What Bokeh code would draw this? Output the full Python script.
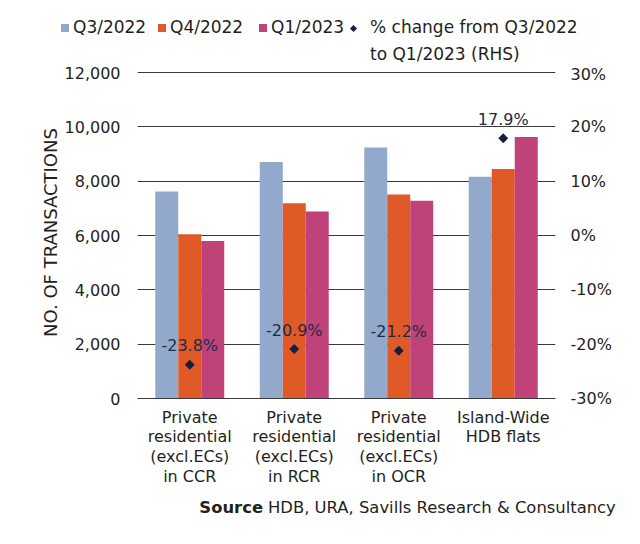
from bokeh.plotting import figure
from bokeh.layouts import column
from bokeh.models import (FactorRange, Range1d, LinearAxis, FixedTicker, NumeralTickFormatter,
                          ColumnDataSource, Div)
from bokeh.transform import dodge
from bokeh.core.properties import value
from bokeh.embed import file_html
from bokeh.resources import INLINE

# ---- data ----
categories = ["Private\nresidential\n(excl.ECs)\nin CCR",
              "Private\nresidential\n(excl.ECs)\nin RCR",
              "Private\nresidential\n(excl.ECs)\nin OCR",
              "Island-Wide\nHDB flats"]
q3_2022 = [7620, 8710, 9240, 8160]
q4_2022 = [6050, 7190, 7510, 8450]
q1_2023 = [5800, 6880, 7280, 9630]
pct_change = [-23.8, -20.9, -21.2, 17.9]
left_ticks = [0, 2000, 4000, 6000, 8000, 10000, 12000]
right_ticks = [-0.3, -0.2, -0.1, 0.0, 0.1, 0.2, 0.3]
series_names = ["Q3/2022", "Q4/2022", "Q1/2023"]
pct_name = "% change from Q3/2022"
pct_name_2 = "to Q1/2023 (RHS)"
source_head = "Source"
source_text = "HDB, URA, Savills Research &amp; Consultancy"

FONT = "DejaVu Sans"
TXT = "#231f20"
SERIES_COLORS = ["#93a9cb", "#e05a28", "#bf4378"]
C_DIA = "#16203c"

# ---- geometry (pixels) ----
W = 640
TOP_H, MAIN_H, SRC_H = 64, 426, 40
FRAME_TOP, FRAME_BOTTOM = 2, 334          # inside the main figure
FRAME_LEFT, FRAME_RIGHT = 137, 555
frame_h = FRAME_BOTTOM - FRAME_TOP
px_per_12000 = 326.0
y_max = 12000 * frame_h / px_per_12000
pct_max = -0.3 + 0.6 * frame_h / px_per_12000

src = ColumnDataSource(dict(cat=categories, q3=q3_2022, q4=q4_2022, q1=q1_2023,
                            pct=[v / 100 for v in pct_change],
                            lab=[f"{v:.1f}%" for v in pct_change]))

# ---------------- main chart ----------------
p = figure(width=W, height=MAIN_H, x_range=FactorRange(*categories),
           y_range=Range1d(0, y_max), output_backend="svg", toolbar_location=None,
           min_border_left=FRAME_LEFT, min_border_right=W - FRAME_RIGHT,
           min_border_top=FRAME_TOP, min_border_bottom=MAIN_H - FRAME_BOTTOM)
p.extra_y_ranges = {"pct": Range1d(-0.3, pct_max)}
p.outline_line_color = None

w = 0.22
for off, col, color in zip([-w, 0, w], ["q3", "q4", "q1"], SERIES_COLORS):
    p.vbar(x=dodge("cat", off, range=p.x_range), top=col, width=w, source=src,
           fill_color=color, line_color=None)
p.scatter(x="cat", y="pct", source=src, y_range_name="pct", marker="square",
          angle=45, angle_units="deg", size=7, fill_color=C_DIA, line_color=None)
p.text(x="cat", y="pct", text="lab", source=src, y_range_name="pct", y_offset=-19,
       text_align="center", text_baseline="middle", text_font=value(FONT),
       text_font_size="16px", text_color="#1e2a4a")

p.yaxis.ticker = FixedTicker(ticks=left_ticks)
p.yaxis.formatter = NumeralTickFormatter(format="0,0")
p.yaxis.axis_line_color = None
p.yaxis.major_tick_line_color = None
p.yaxis.major_tick_out = 0
p.yaxis.minor_tick_line_color = None
p.yaxis.major_label_standoff = 17
p.yaxis.major_label_text_font = FONT
p.yaxis.major_label_text_font_size = "16px"
p.yaxis.major_label_text_color = TXT
p.yaxis.axis_label = "NO. OF TRANSACTIONS"
p.yaxis.axis_label_text_font = FONT
p.yaxis.axis_label_text_font_style = "normal"
p.yaxis.axis_label_text_font_size = "18px"
p.yaxis.axis_label_text_color = TXT
p.yaxis.axis_label_standoff = 1

ra = LinearAxis(y_range_name="pct", ticker=FixedTicker(ticks=right_ticks),
                formatter=NumeralTickFormatter(format="0%"))
ra.axis_line_color = None
ra.major_tick_line_color = None
ra.major_tick_out = 0
ra.minor_tick_line_color = None
ra.major_label_standoff = 15
ra.major_label_text_font = FONT
ra.major_label_text_font_size = "16px"
ra.major_label_text_color = TXT
p.add_layout(ra, "right")

p.xaxis.axis_line_color = "#3a3a3a"
p.xaxis.axis_line_width = 1.2
p.xaxis.major_tick_line_color = None
p.xaxis.major_tick_out = 0
p.xaxis.minor_tick_line_color = None
p.xaxis.major_label_standoff = 9
p.xaxis.major_label_text_font = FONT
p.xaxis.major_label_text_font_size = "16px"
p.xaxis.major_label_text_color = TXT
p.xaxis.major_label_text_line_height = 1.05

p.xgrid.grid_line_color = None
p.ygrid.ticker = FixedTicker(ticks=left_ticks)
p.ygrid.grid_line_color = "#3a3a3a"
p.ygrid.grid_line_width = 1.2

# ---------------- legend strip (HTML) ----------------
swatch_x = [61, 158, 259]
diamond_cx, pct_text_x = 353, 370
base = f"position:absolute;white-space:nowrap;line-height:20px;"
parts = []
for name, color, x in zip(series_names, SERIES_COLORS, swatch_x):
    parts.append(f'<span style="position:absolute;left:{x}px;top:24px;width:8px;height:8px;'
                 f'background:{color}"></span>')
    parts.append(f'<span style="{base}left:{x + 12}px;top:17px">{name}</span>')
parts.append(f'<span style="position:absolute;left:{diamond_cx - 2.5}px;top:25.5px;width:5px;'
             f'height:5px;background:{C_DIA};transform:rotate(45deg)"></span>')
parts.append(f'<span style="{base}left:{pct_text_x}px;top:17px">{pct_name}</span>')
parts.append(f'<span style="{base}left:{pct_text_x}px;top:44px">{pct_name_2}</span>')
legend_html = (f'<div style="position:relative;width:{W}px;height:{TOP_H}px;'
               f'font-family:\'{FONT}\';font-size:17px;color:{TXT}">' + "".join(parts) + "</div>")
top_div = Div(text=legend_html, width=W, height=TOP_H, styles={"margin": "0", "padding": "0"})

# ---------------- source strip (HTML) ----------------
src_html = (f'<div style="position:relative;width:{W}px;height:{SRC_H}px;'
            f'font-family:\'{FONT}\';font-size:16.4px;color:{TXT}">'
            f'<span style="{base}right:{W - 263}px;top:8px;font-weight:bold">{source_head}</span>'
            f'<span style="{base}left:268px;top:8px">{source_text}</span></div>')
src_div = Div(text=src_html, width=W, height=SRC_H, styles={"margin": "0", "padding": "0"})

open("out.html", "w").write(file_html(column(top_div, p, src_div, spacing=0), INLINE))
